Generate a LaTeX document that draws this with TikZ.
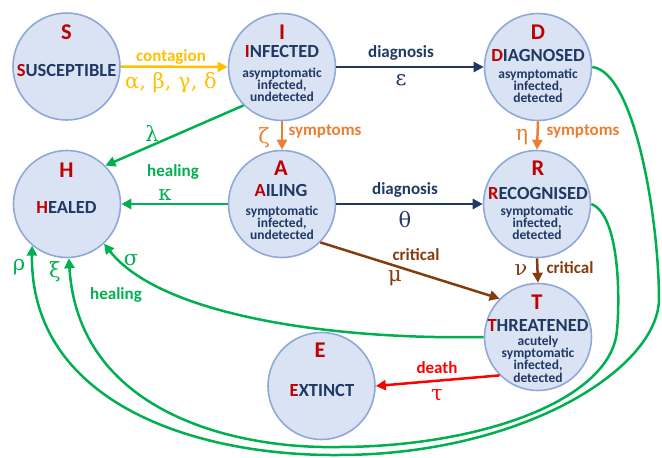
\documentclass[tikz,border=0pt]{standalone}
\usepackage{fontspec}
\setmainfont{Carlito}
\newfontfamily\greekfont{DejaVu Serif}
\usetikzlibrary{arrows.meta}

\definecolor{sirfill}{HTML}{DAE3F3}
\definecolor{sirborder}{HTML}{8FA8D8}
\definecolor{sirnavy}{HTML}{1F3864}
\definecolor{sirred}{HTML}{C00000}
\definecolor{sirgold}{HTML}{FFC000}
\definecolor{sirorange}{HTML}{ED7D31}
\definecolor{sirgreen}{HTML}{00B050}
\definecolor{sirbrown}{HTML}{843C0C}
\definecolor{sirdeath}{HTML}{FF0000}

\begin{document}
\begin{tikzpicture}[x=1pt,y=-1pt,
	compartment/.style={circle, draw=sirborder, fill=sirfill, line width=1.6pt, minimum size=107pt, inner sep=0pt},
	bigletter/.style={font=\fontsize{22.5}{22.5}\selectfont\bfseries, text=sirred, inner sep=0pt},
	statename/.style={font=\fontsize{18.5}{18.5}\selectfont\bfseries, text=sirnavy, inner sep=0pt},
	subtext/.style={font=\fontsize{13.5}{12.3}\selectfont\bfseries, text=sirnavy, align=center, inner sep=0pt},
	flowlabel/.style={font=\fontsize{17}{17}\selectfont\bfseries, inner sep=0pt},
	rate/.style={font=\fontsize{21}{21}\greekfont, inner sep=0pt},
	flow/.style={line width=2.5pt, -{Triangle[length=10pt,width=10pt]}}]
	\useasboundingbox (0,0) rectangle (662,458);

	\node[compartment] (s) at (66.5,66.5) {};
	\node[compartment] (i) at (282,67) {};
	\node[compartment] (d) at (538,67) {};
	\node[compartment] (h) at (67,204) {};
	\node[compartment] (a) at (282,204) {};
	\node[compartment] (r) at (537,204) {};
	\node[compartment] (t) at (538,337) {};
	\node[compartment] (e) at (321.5,386) {};

	\node[bigletter] (sL) at (66.5,32) {S};
	\node[statename] (sN) at (66.5,71) {\textcolor{sirred}{S}USCEPTIBLE};
	\node[bigletter] (iL) at (282,32) {I};
	\node[statename] (iN) at (282,51) {\textcolor{sirred}{I}NFECTED};
	\node[subtext] (iS) at (282,85) {asymptomatic\\infected,\\undetected};
	\node[bigletter] (dL) at (538,32) {D};
	\node[statename] (dN) at (538,55) {\textcolor{sirred}{D}IAGNOSED};
	\node[subtext] (dS) at (538,86) {asymptomatic\\infected,\\detected};
	\node[bigletter] (hL) at (66.5,170) {H};
	\node[statename] (hN) at (66.5,207) {\textcolor{sirred}{H}EALED};
	\node[bigletter] (aL) at (281,168) {A};
	\node[statename] (aN) at (281,190) {\textcolor{sirred}{A}ILING};
	\node[subtext] (aS) at (282,223) {symptomatic\\infected,\\undetected};
	\node[bigletter] (rL) at (538,168) {R};
	\node[statename] (rN) at (538,193) {\textcolor{sirred}{R}ECOGNISED};
	\node[subtext] (rS) at (537,223) {symptomatic\\infected,\\detected};
	\node[bigletter] (tL) at (537,302) {T};
	\node[statename] (tN) at (538,325) {\textcolor{sirred}{T}HREATENED};
	\node[subtext] (tS) at (538,359) {acutely\\symptomatic\\infected,\\detected};
	\node[bigletter] (eL) at (320,350) {E};
	\node[statename] (eN) at (322,390) {\textcolor{sirred}{E}XTINCT};

	\draw[flow, sirgold] (s.east) -- (i.west);
	\draw[flow, sirnavy] (i.east) -- (d.west);
	\draw[flow, sirorange] (i.south) -- (a.north);
	\draw[flow, sirorange] (d.south) -- (r.north);
	\draw[flow, sirgreen] (i.225) -- (h.45);
	\draw[flow, sirgreen] (a.west) -- (h.east);
	\draw[flow, sirnavy] (a.east) -- (r.west);
	\draw[flow, sirbrown] (a.-45) -- (t.135);
	\draw[flow, sirbrown] (r.south) -- (t.north);
	\draw[flow, sirdeath] (t.225) -- (e.east);
	\draw[flow, sirgreen] (t.west) .. controls (330,340) and (160,315) .. (h.-47);
	\draw[flow, sirgreen] (r.east) .. controls (620,215) and (620,300) .. (617,330)
		.. controls (612,400) and (480,447) .. (338,447)
		.. controls (230,449) and (78,410) .. (h.-88);
	\draw[flow, sirgreen] (d.east) .. controls (635,72) and (659,220) .. (659,300)
		.. controls (657,370) and (520,455) .. (338,455)
		.. controls (190,456) and (30,400) .. (h.-130);

	\node[flowlabel, text=sirgold] (contagionL) at (171,57) {contagion};
	\node[rate, text=sirgold] (alphaL) at (171,83) {α, β, γ, δ};
	\node[flowlabel, text=sirnavy] (diagIL) at (401,53) {diagnosis};
	\node[rate, text=sirnavy] (epsL) at (401,80) {ε};
	\node[rate, text=sirorange] (zetaL) at (264,138) {ζ};
	\node[flowlabel, text=sirorange] (sympIL) at (325,131) {symptoms};
	\node[rate, text=sirorange] (etaL) at (522,137) {η};
	\node[flowlabel, text=sirorange] (sympDL) at (583,131) {symptoms};
	\node[rate, text=sirgreen] (lambdaL) at (152,133) {λ};
	\node[flowlabel, text=sirgreen] (healAL) at (173,172) {healing};
	\node[rate, text=sirgreen] (kappaL) at (165,195) {κ};
	\node[flowlabel, text=sirnavy] (diagAL) at (405,190) {diagnosis};
	\node[rate, text=sirnavy] (thetaL) at (405,220) {θ};
	\node[flowlabel, text=sirbrown] (critAL) at (416,255) {critical};
	\node[rate, text=sirbrown] (muL) at (395,278) {μ};
	\node[rate, text=sirbrown] (nuL) at (521,270) {ν};
	\node[flowlabel, text=sirbrown] (critRL) at (570,268) {critical};
	\node[flowlabel, text=sirdeath] (deathL) at (437,368) {death};
	\node[rate, text=sirdeath] (tauL) at (437,395) {τ};
	\node[rate, text=sirgreen] (sigmaL) at (131,260) {σ};
	\node[flowlabel, text=sirgreen] (healTL) at (116,295) {healing};
	\node[rate, text=sirgreen] (rhoL) at (19,267) {ρ};
	\node[rate, text=sirgreen] (xiL) at (55,272) {ξ};
\end{tikzpicture}
\end{document}
